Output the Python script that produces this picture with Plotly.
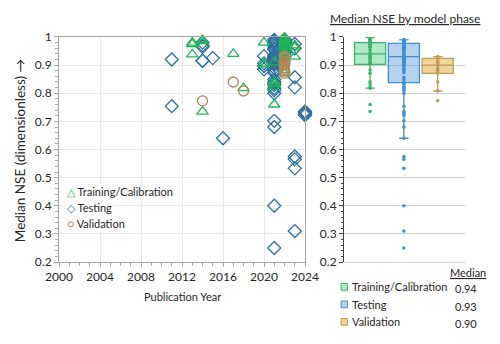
import plotly.graph_objects as go

# Training / Calibration (triangles)
train_year = [2013, 2013, 2013,
              2014, 2014, 2014,
              2017,
              2018,
              2020, 2020, 2020,
              2021, 2021, 2021, 2021, 2021,
              2022, 2022, 2022, 2022, 2022, 2022, 2022, 2022,
              2022, 2022, 2022, 2022, 2022, 2022, 2022, 2022,
              2023, 2023, 2023]
train_nse = [0.98, 0.975, 0.938,
             0.99, 0.985, 0.735,
             0.94,
             0.818,
             0.98, 0.905, 0.903,
             0.91, 0.841, 0.833, 0.823, 0.76,
             0.998, 0.995, 0.99, 0.985, 0.98, 0.972, 0.965, 0.955,
             0.945, 0.94, 0.932, 0.924, 0.92, 0.912, 0.883, 0.871,
             0.97, 0.963, 0.93]

# Testing (diamonds)
test_year = [2011, 2011,
             2014, 2014, 2014, 2014, 2014,
             2015,
             2016,
             2020, 2020, 2020, 2020,
             2021, 2021, 2021, 2021, 2021, 2021, 2021, 2021, 2021, 2021,
             2021, 2021, 2021, 2021, 2021, 2021, 2021, 2021, 2021, 2021,
             2021, 2021, 2021, 2021, 2021, 2021, 2021, 2021, 2021, 2021,
             2022, 2022, 2022, 2022, 2022, 2022, 2022, 2022, 2022, 2022, 2022, 2022, 2022,
             2022, 2022, 2022, 2022, 2022, 2022, 2022, 2022, 2022, 2022, 2022, 2022, 2022,
             2023, 2023, 2023, 2023, 2023, 2023, 2023, 2023,
             2024, 2024, 2024, 2024]
test_nse = [0.92, 0.754,
            0.98, 0.97, 0.965, 0.916, 0.915,
            0.925,
            0.64,
            0.932, 0.906, 0.885, 0.897,
            0.99, 0.985, 0.98, 0.975, 0.968, 0.96, 0.955, 0.915, 0.905, 0.935,
            0.93, 0.928, 0.924, 0.92, 0.91, 0.90, 0.89, 0.88, 0.873, 0.818,
            0.849, 0.84, 0.835, 0.829, 0.811, 0.80, 0.702, 0.68, 0.40, 0.25,
            0.99, 0.99, 0.989, 0.988, 0.988, 0.987, 0.986, 0.985, 0.984, 0.983, 0.982, 0.981, 0.98,
            0.98, 0.979, 0.978, 0.976, 0.972, 0.97, 0.965, 0.962, 0.958, 0.951, 0.95, 0.945, 0.94,
            0.975, 0.96, 0.857, 0.821, 0.575, 0.565, 0.533, 0.31,
            0.735, 0.73, 0.727, 0.722]

# Validation (circles)
valid_year = [2014, 2017, 2018,
              2022, 2022, 2022, 2022, 2022, 2022, 2022, 2022, 2022, 2022, 2022, 2022]
valid_nse = [0.773, 0.84, 0.808,
             0.871, 0.88, 0.885, 0.89, 0.90, 0.905, 0.91, 0.915, 0.924, 0.927, 0.93, 0.93]

phases = ['Training/Calibration', 'Testing', 'Validation']
median_labels = ['0.94', '0.93', '0.90']

GREEN = '#1fb656'
BLUE = '#2c6f9e'
BROWN = '#b8845a'

BOX_FILL = ['rgba(60,200,110,0.40)', 'rgba(70,145,215,0.40)', 'rgba(225,185,90,0.60)']
BOX_LINE = ['#3cb46a', '#3f8fd4', '#c49a55']

fig = go.Figure()

# left scatter
for yr, val, sym, col in [(test_year, test_nse, 'diamond-open', BLUE),
                          (train_year, train_nse, 'triangle-up-open', GREEN),
                          (valid_year, valid_nse, 'circle-open', BROWN)]:
    fig.add_trace(go.Scatter(
        x=yr, y=val, mode='markers', showlegend=False, cliponaxis=False,
        marker=dict(symbol=sym, size=10, color=col, line=dict(width=1.3)),
        xaxis='x', yaxis='y'))

# right box plots
for i, vals in enumerate([train_nse, test_nse, valid_nse]):
    fig.add_trace(go.Box(
        y=vals, x0=i, name=phases[i], showlegend=False,
        boxpoints='all', jitter=0, pointpos=0,
        quartilemethod='exclusive',
        fillcolor=BOX_FILL[i], line=dict(color=BOX_LINE[i], width=1.3),
        marker=dict(size=3.5, color=BOX_LINE[i]),
        width=0.92, whiskerwidth=0.3,
        xaxis='x2', yaxis='y2'))

# left legend (symbol + label), drawn as text
legend_syms = ['\u25b3', '\u25c7', '\u25cb']
legend_cols = [GREEN, BLUE, BROWN]
annotations = []
for i in range(3):
    annotations.append(dict(
        text='<span style="color:%s">%s</span> %s' % (legend_cols[i], legend_syms[i], phases[i]),
        x=0.115, y=0.4524 - i * 0.0476, xref='paper', yref='paper',
        xanchor='left', yanchor='middle',
        showarrow=False, bgcolor='white', borderpad=1, font=dict(size=11)))

# right legend: swatches, labels, medians
shapes = []
for i in range(3):
    yc = 0.170 - i * 0.0521
    shapes.append(dict(type='rect', xref='paper', yref='paper',
                       x0=0.677, x1=0.69, y0=yc - 0.01, y1=yc + 0.01,
                       fillcolor=BOX_FILL[i], line=dict(color=BOX_LINE[i], width=1)))
    annotations.append(dict(text=phases[i], x=0.696, y=yc, xref='paper', yref='paper',
                            xanchor='left', yanchor='middle', showarrow=False, font=dict(size=11)))
    annotations.append(dict(text=median_labels[i], x=0.931, y=yc - 0.006, xref='paper', yref='paper',
                            xanchor='center', yanchor='middle', showarrow=False, font=dict(size=11)))

annotations += [
    dict(text='Median NSE (dimensionless) \u2192', textangle=-90,
         x=0.0244, y=0.574, xref='paper', yref='paper', showarrow=False,
         xanchor='center', yanchor='middle', font=dict(size=13.5)),
    dict(text='Publication Year', x=0.3537, y=0.140, xref='paper', yref='paper',
         xanchor='center', yanchor='middle', showarrow=False, font=dict(size=11)),
    dict(text='<u>Median NSE by model phase</u>', x=0.807, y=0.970,
         xref='paper', yref='paper', xanchor='center', yanchor='middle',
         showarrow=False, font=dict(size=12)),
    dict(text='<u>Median</u>', x=0.935, y=0.214, xref='paper', yref='paper',
         xanchor='center', yanchor='middle', showarrow=False, font=dict(size=11)),
]

fig.update_layout(
    width=492,
    height=336,
    margin=dict(l=0, r=0, t=0, b=0, autoexpand=False),
    paper_bgcolor='white',
    plot_bgcolor='white',
    showlegend=False,
    font=dict(family='Lato', size=12, color='#262626'),
    xaxis=dict(
        domain=[0.1037, 0.6037],
        range=[2000, 2024],
        tick0=2000,
        dtick=4,
        showgrid=True,
        gridcolor='#e8e8e8',
        zeroline=False,
        showline=True,
        linecolor='#a6a6a6',
        mirror=True,
        ticks='outside',
        ticklen=4,
        tickcolor='#a6a6a6',
        minor=dict(dtick=1, ticks='outside', ticklen=3, tickcolor='#a6a6a6', showgrid=False),
        anchor='y'
    ),
    yaxis=dict(
        domain=[0.244, 0.9137],
        range=[0.2, 1],
        dtick=0.1,
        showgrid=True,
        gridcolor='#e8e8e8',
        zeroline=False,
        showline=True,
        linecolor='#a6a6a6',
        mirror=True,
        ticks='outside',
        ticklen=4,
        tickcolor='#a6a6a6',
        minor=dict(dtick=0.02, ticks='outside', ticklen=3, tickcolor='#a6a6a6', showgrid=False),
        anchor='x'
    ),
    xaxis2=dict(
        domain=[0.683, 0.929],
        range=[-0.77, 2.81],
        showticklabels=False,
        showgrid=False,
        zeroline=False,
        showline=True,
        linecolor='#d0d0d0',
        anchor='y2'
    ),
    yaxis2=dict(
        domain=[0.244, 0.9137],
        range=[0.2, 1],
        dtick=0.1,
        showgrid=True,
        gridcolor='#cfcfcf',
        zeroline=False,
        showline=True,
        linecolor='#404040',
        ticks='outside',
        ticklen=4,
        tickcolor='#404040',
        minor=dict(dtick=0.02, ticks='outside', ticklen=2, tickcolor='#404040', showgrid=False),
        anchor='x2'
    ),
    shapes=shapes,
    annotations=annotations
)

fig.write_html("out.html")
